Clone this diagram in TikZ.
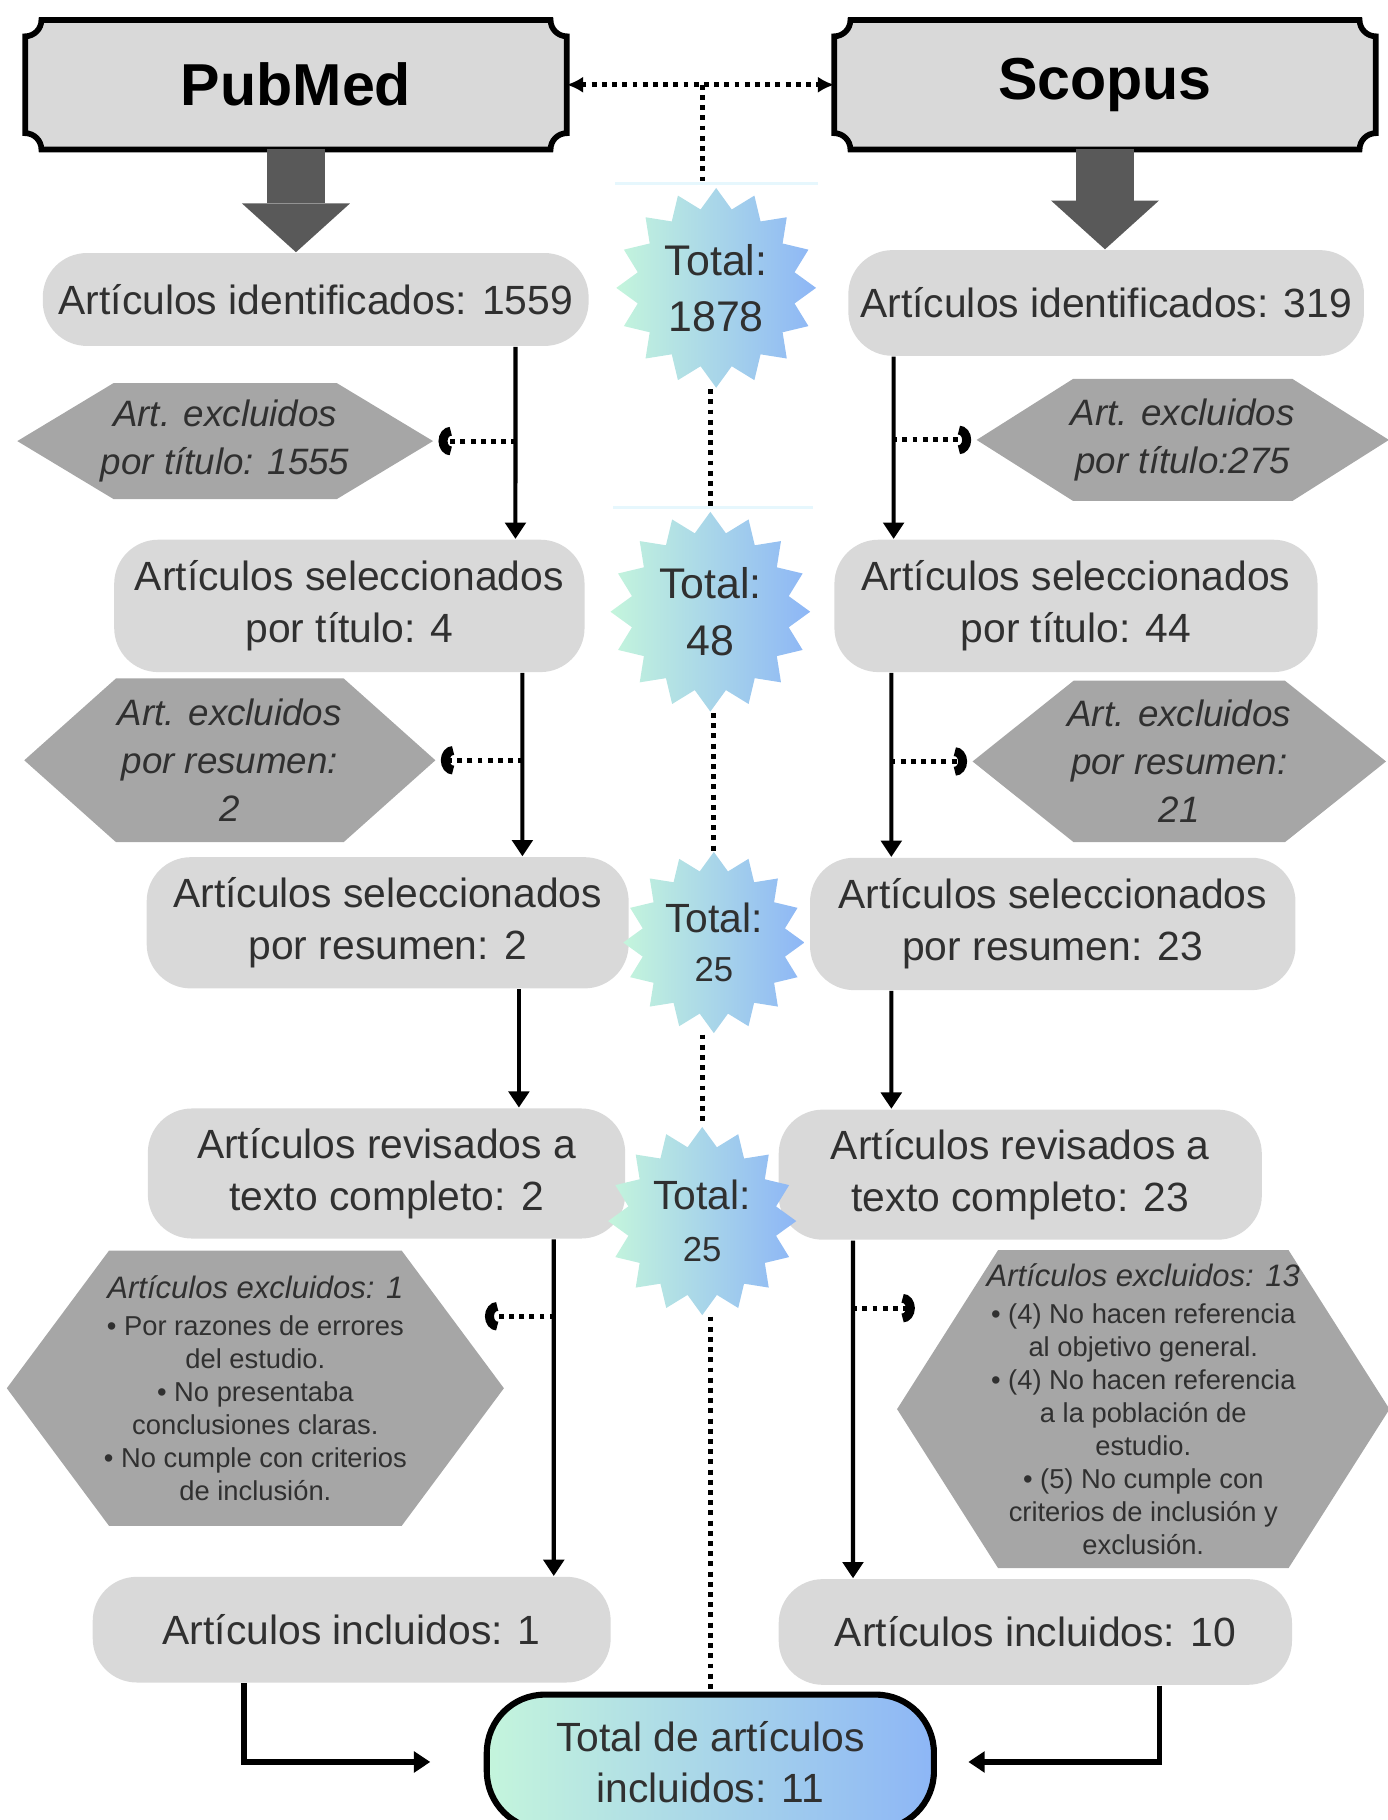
\documentclass[tikz,border=0pt]{standalone}
\usepackage{fontspec}
\setmainfont{Liberation Sans}
\usetikzlibrary{shapes.geometric, arrows.meta, calc, backgrounds}

\definecolor{boxgray}{HTML}{D9D9D9}
\definecolor{hexgray}{HTML}{A6A6A6}
\definecolor{bigray}{HTML}{595959}
\definecolor{txtgray}{HTML}{303030}
\definecolor{mint}{HTML}{C4F5DC}
\definecolor{sky}{HTML}{8DB6F6}

% frame with concave corners for the database headers
\def\nr{0.14cm}
\newcommand{\notchframe}[1]{%
  \begin{scope}[on background layer]
  \draw[fill=boxgray, line width=1.4pt]
    ($(#1.north west)+(\nr,0cm)$) -- ($(#1.north east)-(\nr,0cm)$)
    .. controls +(0cm,-0.55*\nr) and +(-0.55*\nr,0cm) .. ($(#1.north east)-(0cm,\nr)$)
    -- ($(#1.south east)+(0cm,\nr)$)
    .. controls +(-0.55*\nr,0cm) and +(0cm,0.55*\nr) .. ($(#1.south east)-(\nr,0cm)$)
    -- ($(#1.south west)+(\nr,0cm)$)
    .. controls +(0cm,0.55*\nr) and +(0.55*\nr,0cm) .. ($(#1.south west)+(0cm,\nr)$)
    -- ($(#1.north west)-(0cm,\nr)$)
    .. controls +(0.55*\nr,0cm) and +(0cm,-0.55*\nr) .. cycle;
  \end{scope}}

\begin{document}
\begin{tikzpicture}[x=0.01cm, y=-0.01cm,
    header/.style={rectangle, minimum width=4.65cm, minimum height=1.1cm, font=\bfseries\fontsize{14.5}{17}\selectfont},
    box/.style={rectangle, rounded corners=0.38cm, fill=boxgray, text=txtgray, align=center, inner sep=0pt, font=\fontsize{10}{12.8}\selectfont},
    hex depth/.store in=\hexdepth, hex depth=0.85cm,
    hexa/.style={rectangle, inner sep=0pt, align=center, text=txtgray, font=\itshape\fontsize{9}{11.8}\selectfont,
        path picture={\fill[hexgray] (path picture bounding box.west)
            -- ($(path picture bounding box.north west)+(\hexdepth,0cm)$)
            -- ($(path picture bounding box.north east)-(\hexdepth,0cm)$)
            -- (path picture bounding box.east)
            -- ($(path picture bounding box.south east)-(\hexdepth,0cm)$)
            -- ($(path picture bounding box.south west)+(\hexdepth,0cm)$) -- cycle;}},
    smallhex/.style={hexa, font=\upshape\fontsize{6.7}{8.1}\selectfont},
    burst/.style={star, star points=16, star point ratio=1.25, left color=mint, right color=sky, text=txtgray, align=center, inner sep=0pt, font=\fontsize{10.5}{13.8}\selectfont},
    total/.style={rectangle, rounded corners=0.5cm, draw=black, line width=1.5pt, left color=mint, right color=sky, text=txtgray, align=center, inner sep=0pt, font=\fontsize{10}{12.4}\selectfont},
    flow/.style={draw=black, line width=1pt, -{Triangle[length=4pt,width=5pt]}},
    bigflow/.style={draw=bigray, line width=0.5cm, -{Triangle[length=0.42cm,width=0.93cm,line width=0pt]}},
    dots/.style={line width=1.2pt, dash pattern=on 1.2pt off 1.3pt},
    exflow/.style={dots, shorten >=0.04cm, -{Arc Barb[length=3pt,width=7pt,line width=2.2pt]}}
]
    \path[use as bounding box] (0,0) rectangle (1195,1568);

    % Databases
    \node[header] (pub) at (255,73) {PubMed};
    \node[header] (sco) at (952,73) {Scopus};
    \notchframe{pub}
    \notchframe{sco}

    % PubMed column
    \node[box, minimum width=4.70cm, minimum height=0.80cm] (l1) at (272,258) {Artículos identificados: 1559};
    \node[hexa, hex depth=0.83cm, minimum width=3.58cm, minimum height=1.00cm] (hxl1) at (194,380) {Art. excluidos\\por título: 1555};
    \node[box, minimum width=4.05cm, minimum height=1.14cm] (l2) at (301,522) {Artículos seleccionados\\por título: 4};
    \node[hexa, hex depth=0.79cm, minimum width=3.54cm, minimum height=1.41cm] (hxl2) at (198,655) {Art. excluidos\\por resumen:\\2};
    \node[box, minimum width=4.15cm, minimum height=1.13cm] (l3) at (334,795) {Artículos seleccionados\\por resumen: 2};
    \node[box, minimum width=4.11cm, minimum height=1.12cm] (l4) at (333,1011) {Artículos revisados a\\texto completo: 2};
    \node[smallhex, hex depth=0.88cm, minimum width=4.28cm, minimum height=2.37cm] (hxl3) at (220,1196)
        {{\itshape\fontsize{7.6}{8.1}\selectfont Artículos excluidos: 1}\\[1pt]
         \textbullet\ Por razones de errores\\del estudio.\\
         \textbullet\ No presentaba\\conclusiones claras.\\
         \textbullet\ No cumple con criterios\\de inclusión.};
    \node[box, minimum width=4.46cm, minimum height=0.91cm] (l5) at (303,1404) {Artículos incluidos: 1};

    % Scopus column
    \node[box, minimum width=4.44cm, minimum height=0.91cm] (r1) at (953,261) {Artículos identificados: 319};
    \node[hexa, hex depth=0.83cm, minimum width=3.55cm, minimum height=1.05cm] (hxr1) at (1019,379) {Art. excluidos\\por título:275};
    \node[box, minimum width=4.16cm, minimum height=1.14cm] (r2) at (927,522) {Artículos seleccionados\\por título: 44};
    \node[hexa, hex depth=0.87cm, minimum width=3.56cm, minimum height=1.39cm] (hxr2) at (1016,656) {Art. excluidos\\por resumen:\\21};
    \node[box, minimum width=4.18cm, minimum height=1.14cm] (r3) at (907,796) {Artículos seleccionados\\por resumen: 23};
    \node[box, minimum width=4.16cm, minimum height=1.12cm] (r4) at (879,1012) {Artículos revisados a\\texto completo: 23};
    \node[smallhex, hex depth=0.87cm, minimum width=4.24cm, minimum height=2.74cm] (hxr3) at (985,1214)
        {{\itshape\fontsize{7.6}{8.1}\selectfont Artículos excluidos: 13}\\[1pt]
         \textbullet\ (4) No hacen referencia\\al objetivo general.\\
         \textbullet\ (4) No hacen referencia\\a la población de\\estudio.\\
         \textbullet\ (5) No cumple con\\criterios de inclusión y\\exclusión.};
    \node[box, minimum width=4.42cm, minimum height=0.91cm] (r5) at (892,1406) {Artículos incluidos: 10};

    % Totals
    \draw[cyan!10, line width=0.8pt] (530,158) -- (705,158);
    \draw[cyan!10, line width=0.8pt] (528,437) -- (700,437);
    \node[burst, minimum size=1.72cm] (s1) at (617,248) {Total:\\1878};
    \node[burst, minimum size=1.72cm] (s2) at (612,527) {Total:\\48};
    \node[burst, minimum size=1.56cm, font=\fontsize{10}{12}\selectfont] (s3) at (615,812) {Total:\\{\fontsize{8.5}{10}\selectfont 25}};
    \node[burst, minimum size=1.62cm, font=\fontsize{10}{12.8}\selectfont] (s4) at (605,1052) {Total:\\{\fontsize{8.5}{10}\selectfont 25}};
    \node[total, minimum width=3.85cm, minimum height=1.16cm] (fin) at (612,1518) {Total de artículos\\incluidos: 11};

    % Dotted links
    \coordinate (jn) at (605,73);
    \draw[dots, {Latex[length=4pt,width=4pt]}-{Latex[length=4pt,width=4pt]}] (pub.east) -- (sco.west);
    \draw[dots] (jn) -- (jn |- s1.north);
    \draw[dots] (s2.north |- s1.south) -- (s2.north);
    \draw[dots] (s3.north |- s2.south) -- (s3.north);
    \draw[dots] (s4.north |- s3.south) -- (s4.north);
    \draw[dots] (fin.north |- s4.south) -- (fin.north);

    % Flows
    \draw[bigflow] (pub.south) -- (pub.south |- l1.north);
    \draw[bigflow] (sco.south) -- (sco.south |- r1.north);

    \draw[flow] ([xshift=1.72cm]l1.south) -- ([xshift=1.43cm]l2.north);
    \draw[flow] ([xshift=1.49cm]l2.south) -- ([xshift=1.16cm]l3.north);
    \draw[flow] ([xshift=1.13cm]l3.south) -- ([xshift=1.14cm]l4.north);
    \draw[flow] ([xshift=1.44cm]l4.south) -- ([xshift=1.74cm]l5.north);

    \draw[flow] ([xshift=-1.83cm]r1.south) -- ([xshift=-1.57cm]r2.north);
    \draw[flow] ([xshift=-1.59cm]r2.south) -- ([xshift=-1.39cm]r3.north);
    \draw[flow] ([xshift=-1.39cm]r3.south) -- ([xshift=-1.11cm]r4.north);
    \draw[flow] ([xshift=-1.44cm]r4.south) -- ([xshift=-1.57cm]r5.north);

    % Exclusions
    \draw[exflow] ([xshift=0.71cm]hxl1.east) -- (hxl1.east);
    \draw[exflow] ([xshift=0.75cm]hxl2.east) -- (hxl2.east);
    \draw[exflow] ($(hxl3.east)+(43,-62)$) -- ($(hxl3.east)+(-21,-62)$);
    \draw[exflow] ([xshift=-0.72cm]hxr1.west) -- (hxr1.west);
    \draw[exflow] ([xshift=-0.70cm]hxr2.west) -- (hxr2.west);
    \draw[exflow] ($(hxr3.west)+(-38,-87)$) -- ($(hxr3.west)+(20,-87)$);

    % Final count
    \draw[flow, line width=1.4pt] ([xshift=-0.93cm]l5.south) |- ([xshift=-0.46cm]fin.west);
    \draw[flow, line width=1.4pt] ([xshift=1.07cm]r5.south) |- ([xshift=0.27cm]fin.east);

\end{tikzpicture}
\end{document}
